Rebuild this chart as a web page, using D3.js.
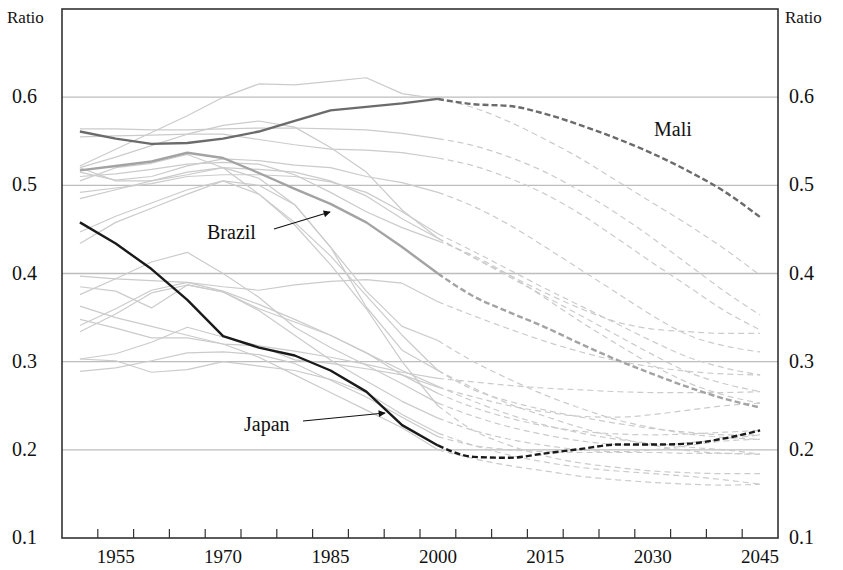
<!DOCTYPE html>
<html>
<head>
<meta charset="utf-8">
<script src="https://cdn.jsdelivr.net/npm/d3@7"></script>
<style>
  body { margin: 0; background: #fff; }
  text { font-family: "Liberation Serif", "DejaVu Serif", serif; fill: #111; }
</style>
</head>
<body>
<svg id="chart" width="843" height="570"></svg>
<script>
const years = d3.range(1950, 2050, 5)
const yearLabels = [1955, 1970, 1985, 2000, 2015, 2030, 2045]
const ratioTicks = [0.1, 0.2, 0.3, 0.4, 0.5, 0.6]
const lastObserved = 2000

const mali = [0.561,0.553,0.547,0.548,0.553,0.561,0.573,0.585,0.589,0.593,0.598,
  0.592,0.590,0.581,0.568,0.553,0.536,0.516,0.493,0.464]
const brazil = [0.517,0.522,0.527,0.537,0.531,0.514,0.496,0.479,0.458,0.430,0.400,
  0.374,0.356,0.339,0.320,0.302,0.286,0.271,0.258,0.248]
const japan = [0.458,0.434,0.405,0.370,0.329,0.316,0.307,0.290,0.266,0.228,0.205,
  0.192,0.191,0.196,0.201,0.206,0.206,0.207,0.213,0.222]

// other countries, drawn light grey
const others = [
  [0.522,0.541,0.560,0.579,0.600,0.615,0.614,0.618,0.622,0.604,0.598,0.588,0.572,0.552,0.530,0.505,0.480,0.455,0.428,0.398],
  [0.564,0.564,0.563,0.563,0.564,0.565,0.565,0.564,0.563,0.559,0.553,0.545,0.532,0.515,0.493,0.468,0.440,0.410,0.380,0.353],
  [0.555,0.556,0.557,0.558,0.558,0.552,0.546,0.541,0.540,0.537,0.531,0.522,0.508,0.490,0.467,0.440,0.412,0.385,0.358,0.336],
  [0.520,0.532,0.545,0.558,0.568,0.573,0.566,0.543,0.515,0.472,0.440,0.418,0.398,0.378,0.360,0.345,0.337,0.334,0.332,0.332],
  [0.515,0.506,0.510,0.522,0.530,0.528,0.523,0.520,0.510,0.503,0.492,0.476,0.455,0.430,0.404,0.378,0.352,0.330,0.318,0.311],
  [0.492,0.497,0.502,0.510,0.512,0.512,0.510,0.504,0.492,0.470,0.445,0.425,0.404,0.383,0.363,0.343,0.323,0.305,0.293,0.285],
  [0.485,0.495,0.505,0.515,0.520,0.518,0.515,0.505,0.488,0.462,0.440,0.418,0.396,0.374,0.352,0.330,0.308,0.288,0.275,0.266],
  [0.510,0.513,0.518,0.524,0.526,0.524,0.512,0.492,0.470,0.452,0.437,0.420,0.398,0.372,0.345,0.320,0.296,0.276,0.262,0.253],
  [0.505,0.520,0.525,0.535,0.520,0.490,0.458,0.420,0.375,0.330,0.290,0.268,0.255,0.245,0.237,0.230,0.224,0.220,0.217,0.217],
  [0.434,0.458,0.474,0.490,0.505,0.500,0.478,0.430,0.380,0.340,0.324,0.300,0.280,0.262,0.247,0.234,0.225,0.218,0.214,0.212],
  [0.520,0.505,0.505,0.512,0.520,0.508,0.478,0.430,0.362,0.313,0.290,0.270,0.252,0.238,0.225,0.214,0.205,0.199,0.196,0.195],
  [0.447,0.465,0.480,0.495,0.505,0.490,0.455,0.410,0.360,0.300,0.250,0.222,0.205,0.193,0.185,0.180,0.176,0.174,0.173,0.173],
  [0.397,0.394,0.392,0.390,0.385,0.381,0.387,0.391,0.393,0.389,0.368,0.352,0.337,0.323,0.311,0.301,0.294,0.289,0.286,0.285],
  [0.376,0.394,0.413,0.424,0.400,0.373,0.339,0.316,0.296,0.275,0.253,0.238,0.226,0.217,0.210,0.206,0.205,0.208,0.212,0.217],
  [0.385,0.380,0.361,0.387,0.379,0.360,0.345,0.330,0.310,0.285,0.264,0.248,0.236,0.227,0.221,0.218,0.217,0.218,0.220,0.222],
  [0.341,0.360,0.381,0.390,0.380,0.365,0.348,0.330,0.310,0.290,0.272,0.255,0.240,0.228,0.219,0.212,0.207,0.203,0.200,0.195],
  [0.334,0.354,0.378,0.387,0.379,0.358,0.330,0.302,0.278,0.255,0.236,0.222,0.212,0.205,0.200,0.198,0.200,0.205,0.210,0.212],
  [0.348,0.338,0.327,0.327,0.320,0.318,0.312,0.305,0.297,0.288,0.281,0.277,0.273,0.270,0.268,0.266,0.265,0.265,0.265,0.266],
  [0.303,0.309,0.322,0.339,0.328,0.318,0.302,0.298,0.292,0.285,0.271,0.260,0.250,0.243,0.238,0.237,0.240,0.245,0.250,0.253],
  [0.303,0.301,0.288,0.291,0.300,0.295,0.290,0.280,0.265,0.240,0.219,0.205,0.194,0.186,0.180,0.176,0.173,0.170,0.166,0.161],
  [0.289,0.293,0.301,0.310,0.311,0.308,0.298,0.279,0.260,0.237,0.215,0.205,0.200,0.198,0.197,0.197,0.197,0.196,0.196,0.195],
  [0.363,0.350,0.340,0.330,0.320,0.305,0.285,0.265,0.245,0.225,0.200,0.190,0.182,0.176,0.170,0.166,0.163,0.161,0.160,0.161]
]

const highlights = [
  {name: 'Brazil', values: brazil, color: '#a3a3a3'},
  {name: 'Mali', values: mali, color: '#6b6b6b'},
  {name: 'Japan', values: japan, color: '#1a1a1a'}
]

const svg = d3.select('#chart')
const plotLeft = 62, plotRight = 778, plotTop = 9, plotBottom = 538

const x = d3.scaleBand().domain(years).range([plotLeft, plotRight]).padding(0)
const xc = yr => x(yr) + x.bandwidth() / 2
const y = d3.scaleLinear().domain([0.1, 0.7]).range([plotBottom, plotTop])

// grid
svg.append('g')
  .selectAll('line')
  .data(ratioTicks.filter(t => t > 0.1))
  .join('line')
  .attr('x1', plotLeft).attr('x2', plotRight)
  .attr('y1', d => y(d)).attr('y2', d => y(d))
  .attr('stroke', '#bdbdbd')
  .attr('stroke-width', 1.4)

const toPoints = vals => years.map((yr, i) => ({yr, v: vals[i]}))
const solidLine = d3.line().x(d => xc(d.yr)).y(d => y(d.v))
const dashLine = d3.line().x(d => xc(d.yr)).y(d => y(d.v)).curve(d3.curveMonotoneX)

function drawSeries(g, vals, color, width, dash) {
  const pts = toPoints(vals)
  g.append('path')
    .attr('d', solidLine(pts.filter(p => p.yr <= lastObserved)))
    .attr('fill', 'none')
    .attr('stroke', color)
    .attr('stroke-width', width)
    .attr('stroke-linejoin', 'round')
  g.append('path')
    .attr('d', dashLine(pts.filter(p => p.yr >= lastObserved)))
    .attr('fill', 'none')
    .attr('stroke', color)
    .attr('stroke-width', width)
    .attr('stroke-dasharray', dash)
}

const gOthers = svg.append('g')
others.forEach(vals => drawSeries(gOthers, vals, '#cbcbcb', 1.2, '6,4'))

const gMain = svg.append('g')
highlights.forEach(h => drawSeries(gMain, h.values, h.color, 2.4, '6,3'))

// frame
svg.append('rect')
  .attr('x', plotLeft).attr('y', plotTop)
  .attr('width', plotRight - plotLeft).attr('height', plotBottom - plotTop)
  .attr('fill', 'none')
  .attr('stroke', '#333')
  .attr('stroke-width', 1.6)

// inner ticks on the bottom axis, between categories
svg.append('g')
  .selectAll('line')
  .data(years.slice(1))
  .join('line')
  .attr('x1', d => x(d)).attr('x2', d => x(d))
  .attr('y1', plotBottom).attr('y2', plotBottom - 9)
  .attr('stroke', '#333')
  .attr('stroke-width', 1.2)

svg.append('g')
  .selectAll('text')
  .data(yearLabels)
  .join('text')
  .attr('x', d => xc(d))
  .attr('y', 563)
  .attr('text-anchor', 'middle')
  .style('font-size', '19px')
  .text(d => d)

const yFmt = d3.format('.1f')
svg.append('g')
  .selectAll('text')
  .data(ratioTicks)
  .join('text')
  .attr('x', 37)
  .attr('y', d => y(d) + 6)
  .attr('text-anchor', 'end')
  .style('font-size', '20px')
  .text(d => yFmt(d))

svg.append('g')
  .selectAll('text')
  .data(ratioTicks)
  .join('text')
  .attr('x', 789)
  .attr('y', d => y(d) + 6)
  .style('font-size', '20px')
  .text(d => yFmt(d))

svg.append('text').attr('x', 7).attr('y', 23).style('font-size', '17px').text('Ratio')
svg.append('text').attr('x', 785).attr('y', 23).style('font-size', '17px').text('Ratio')

// labels and arrows
svg.append('defs').append('marker')
  .attr('id', 'arrow')
  .attr('viewBox', '0 0 10 10')
  .attr('refX', 9).attr('refY', 5)
  .attr('markerWidth', 9).attr('markerHeight', 7)
  .attr('markerUnits', 'userSpaceOnUse')
  .attr('orient', 'auto')
  .append('path')
  .attr('d', 'M0,0 L10,5 L0,10 z')
  .attr('fill', '#111')

const notes = [
  {text: 'Brazil', tx: 207, ty: 239, from: [274, 229], to: [330, 212]},
  {text: 'Japan', tx: 244, ty: 431, from: [303, 421], to: [385, 413]}
]
notes.forEach(n => {
  svg.append('text').attr('x', n.tx).attr('y', n.ty).style('font-size', '20px').text(n.text)
  svg.append('line')
    .attr('x1', n.from[0]).attr('y1', n.from[1])
    .attr('x2', n.to[0]).attr('y2', n.to[1])
    .attr('stroke', '#111')
    .attr('stroke-width', 1.2)
    .attr('marker-end', 'url(#arrow)')
})
svg.append('text').attr('x', 654).attr('y', 136).style('font-size', '20px').text('Mali')
</script>
</body>
</html>
